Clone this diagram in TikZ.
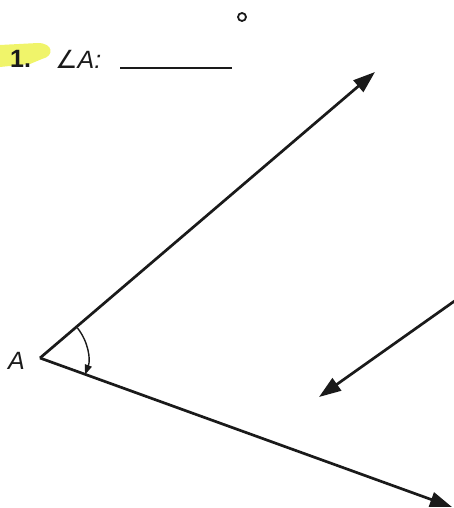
\documentclass[tikz,border=0pt]{standalone}
\usepackage{fontspec}
\setmainfont{Liberation Sans}
\newfontfamily\symfont{DejaVu Sans}
\usepackage{xcolor}
\usetikzlibrary{arrows.meta}
\definecolor{Ink}      {HTML}{1A1A1A}
\definecolor{MarkYellow}{HTML}{F0F46A}

\begin{document}
\begin{tikzpicture}[x=1pt, y=-1pt, font=\fontsize{25}{29}\selectfont,
  ray/.style={line width=2.7pt, Ink, -{Triangle[length=22pt, width=15pt]}}]
  \useasboundingbox (0,0) rectangle (454,508);

  % ===== HEADING =====
  \fill[MarkYellow] (0,45) -- (38,43) .. controls (53,43) and (55,56) .. (42,59)
        -- (30,64) -- (0,67) -- cycle;
  \node[anchor=west, font=\fontsize{25}{29}\selectfont\bfseries, text=Ink, inner sep=0pt] (num) at (10,59) {1.};
  \node[anchor=west, text=Ink, inner sep=0pt] (ang) at (55,59) {{\symfont ∠}\textit{A:}};
  \draw[line width=2pt, Ink] (120,68) -- (232,68);
  \draw[line width=1.8pt, Ink] (242,17) circle (4);

  % ===== ANGLE A =====
  \coordinate (A) at (40,358);
  \coordinate (up) at (375,72);
  \coordinate (down) at (452,507);
  \node[anchor=east, text=Ink, inner sep=0pt] (lab) at (25,361) {\textit{A}};
  \draw[ray] (A) -- (up);
  \draw[ray] (A) -- (down);
  \draw[line width=1.4pt, Ink, -{Triangle[length=10pt, width=7pt]}]
        ([shift={(38.5:48pt)}]A) arc[start angle=38.5, end angle=-20.5, radius=48pt];

  % ===== LONE ARROW =====
  \coordinate (from) at (456,300);
  \coordinate (to) at (319,397);
  \draw[ray] (from) -- (to);

\end{tikzpicture}
\end{document}
